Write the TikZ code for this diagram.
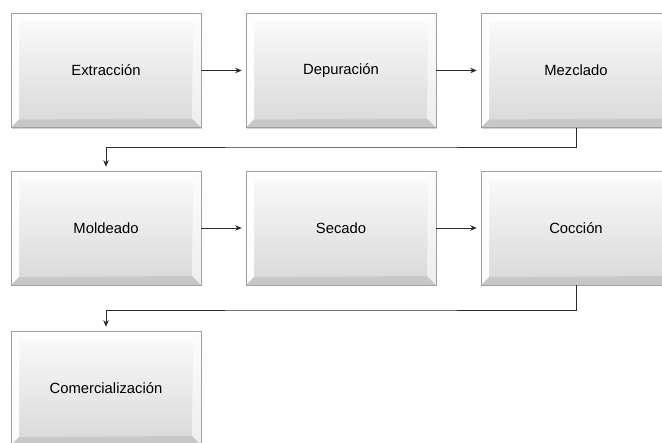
\documentclass[tikz,border=0pt]{standalone}
\usepackage{fontspec}
\setmainfont{Liberation Sans}
\usetikzlibrary{shadows,arrows.meta}
\definecolor{facetop}{HTML}{FCFCFC}
\definecolor{facebot}{HTML}{D8D8D8}
\definecolor{edgecol}{HTML}{A0A0A0}
\definecolor{linecol}{HTML}{2A2A2A}
\tikzset{
  bevbox/.style={rectangle, minimum width=190pt, minimum height=114pt, inner sep=0pt,
    font=\fontsize{14.8pt}{17pt}\selectfont,
    top color=facetop, bottom color=facebot, draw=edgecol, line width=0.6pt,
    drop shadow={shadow xshift=0.6pt, shadow yshift=-1.4pt, opacity=0.3, fill=black!60},
    path picture={
      \coordinate (nw) at (path picture bounding box.north west);
      \coordinate (ne) at (path picture bounding box.north east);
      \coordinate (sw) at (path picture bounding box.south west);
      \coordinate (se) at (path picture bounding box.south east);
      \fill[white, opacity=0.8] (nw) -- (ne) -- ([shift={(-8pt,-8pt)}]ne) -- ([shift={(8pt,-8pt)}]nw) -- cycle;
      \fill[white, opacity=0.95] (nw) -- (sw) -- ([shift={(8pt,8pt)}]sw) -- ([shift={(8pt,-8pt)}]nw) -- cycle;
      \fill[black, opacity=0.08] (sw) -- (se) -- ([shift={(-9pt,9pt)}]se) -- ([shift={(8pt,8pt)}]sw) -- cycle;
      \fill[white, opacity=0.55] (ne) -- (se) -- ([shift={(-9pt,9pt)}]se) -- ([shift={(-8pt,-8pt)}]ne) -- cycle;
    }},
  conn/.style={draw=linecol, line width=0.9pt, -{Stealth[length=6.5pt,width=5.5pt]}, shorten >=4pt}
}
\begin{document}
\begin{tikzpicture}[x=1pt,y=1pt]
\useasboundingbox (0,0) rectangle (662,-443);
\begin{scope}
\clip (0,0) rectangle (662,-443);
\node[bevbox] (ext) at (106,-70.5) {Extracción};
\node[bevbox] (dep) at (341,-70.5) {Depuración};
\node[bevbox] (mez) at (576,-70.5) {Mezclado};
\node[bevbox] (mol) at (106,-228) {Moldeado};
\node[bevbox] (sec) at (341,-228) {Secado};
\node[bevbox] (coc) at (576,-228) {Cocción};
\node[bevbox] (com) at (106,-388) {Comercialización};
\coordinate (b1) at (341,-147);
\coordinate (b2) at (341,-310);
\draw[conn] (ext.east) -- (dep.west);
\draw[conn] (dep.east) -- (mez.west);
\draw[conn] (mez.south) |- (b1) -| (mol.north);
\draw[conn] (mol.east) -- (sec.west);
\draw[conn] (sec.east) -- (coc.west);
\draw[conn] (coc.south) |- (b2) -| (com.north);
\end{scope}
\end{tikzpicture}
\end{document}
